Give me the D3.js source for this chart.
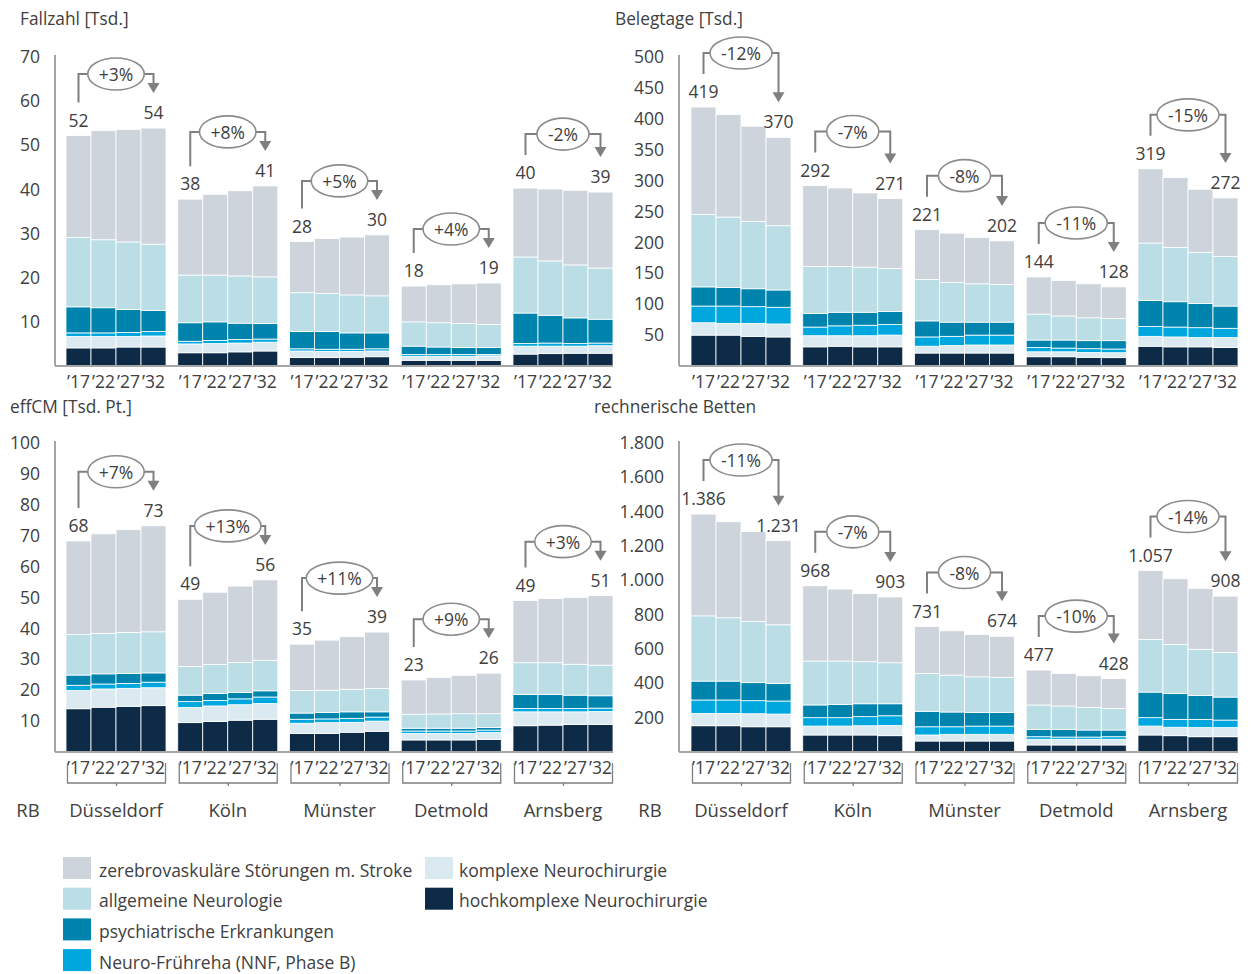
<!DOCTYPE html>
<html>
<head>
<meta charset="utf-8">
<script src="https://cdn.jsdelivr.net/npm/d3@7"></script>
<style>
  body { margin: 0; background: #fff; }
  svg text { font-family: "Open Sans", "Noto Sans", sans-serif; fill: #404040; }
</style>
</head>
<body>
<svg id="chart" width="1254" height="974"></svg>
<script>
// Regierungsbezirke and projection years
const regions = ["Düsseldorf", "Köln", "Münster", "Detmold", "Arnsberg"];
const years = ["’17", "’22", "’27", "’32"];

// Stack order, bottom to top
const categories = [
  "hochkomplexe Neurochirurgie",
  "komplexe Neurochirurgie",
  "Neuro-Frühreha (NNF, Phase B)",
  "psychiatrische Erkrankungen",
  "allgemeine Neurologie",
  "zerebrovaskuläre Störungen m. Stroke"
];
const categoryColors = ["#0d2a47", "#dbeaf0", "#00a7df", "#0083ad", "#badde6", "#cdd4db"];

// Legend layout order (two columns)
const legendColumns = [
  ["zerebrovaskuläre Störungen m. Stroke", "allgemeine Neurologie", "psychiatrische Erkrankungen", "Neuro-Frühreha (NNF, Phase B)"],
  ["komplexe Neurochirurgie", "hochkomplexe Neurochirurgie"]
];

// Each region: four years, each [hochkomplex, komplex, Frühreha, psychiatrisch, allg. Neurologie, zerebrovaskulär]
const fallzahl = [
  [[4.1, 2.6, 0.8, 5.9, 15.7, 23.1], [4.1, 2.6, 0.8, 5.7, 15.4, 24.7], [4.3, 2.4, 0.9, 5.2, 15.3, 25.5], [4.3, 2.5, 1.0, 4.8, 15.0, 26.3]],
  [[3.0, 2.0, 0.6, 4.2, 10.8, 17.2], [3.0, 2.1, 0.7, 4.2, 10.6, 18.3], [3.2, 2.0, 0.8, 3.7, 10.7, 19.3], [3.4, 2.0, 0.7, 3.5, 10.6, 20.6]],
  [[1.9, 1.5, 0.5, 3.9, 8.8, 11.6], [1.9, 1.4, 0.5, 4.0, 8.6, 12.5], [2.0, 1.3, 0.5, 3.7, 8.6, 13.1], [2.1, 1.3, 0.5, 3.6, 8.4, 13.8]],
  [[1.3, 0.9, 0.4, 1.9, 5.5, 8.1], [1.3, 0.9, 0.4, 1.7, 5.5, 8.6], [1.3, 0.9, 0.4, 1.6, 5.4, 9.0], [1.3, 1.0, 0.3, 1.6, 5.2, 9.4]],
  [[2.7, 1.8, 0.6, 6.9, 12.7, 15.6], [2.8, 1.7, 0.7, 6.3, 12.3, 16.3], [2.9, 1.6, 0.6, 5.8, 12.0, 16.9], [2.9, 1.7, 0.6, 5.4, 11.6, 17.2]]
];

const belegtage = [
  [[50, 20, 27, 31, 117, 174], [50, 19, 28, 30, 114, 166], [48, 21, 27, 29, 109, 154], [47, 21, 27, 28, 104, 143]],
  [[31, 18, 14, 22, 76, 131], [32, 17, 16, 22, 74, 127], [31, 18, 17, 21, 73, 120], [31, 19, 17, 21, 70, 113]],
  [[21, 11, 15, 26, 67, 80.6], [21, 12, 15, 23, 64, 80], [21, 13, 16, 21, 62, 75], [21, 13, 16, 21, 61, 70.4]],
  [[15, 8, 7, 12, 42, 60], [15, 8, 6, 13, 39, 57.5], [14, 8, 6, 13, 37, 55], [13.5, 8, 6, 13.5, 36, 51]],
  [[32, 16, 16, 42, 93, 120], [31, 16, 16, 41, 88, 113], [31, 15, 16, 39, 83, 102], [30, 16, 15, 36, 80, 95]]
];

const effCM = [
  [[14.0, 5.9, 1.7, 3.3, 13.1, 30.3], [14.5, 5.9, 1.6, 3.3, 13.1, 32.2], [14.8, 5.8, 1.6, 3.2, 13.3, 33.3], [15.0, 5.8, 1.8, 3.0, 13.3, 34.3]],
  [[9.5, 4.9, 1.9, 2.1, 9.3, 21.7], [9.9, 5.0, 1.8, 2.2, 9.4, 23.4], [10.3, 5.0, 1.9, 2.1, 9.7, 24.7], [10.6, 5.1, 2.1, 2.0, 9.9, 26.0]],
  [[6.0, 3.3, 1.3, 2.0, 7.3, 15.0], [6.0, 3.5, 1.2, 2.1, 7.2, 16.2], [6.4, 3.2, 1.3, 2.1, 7.3, 17.0], [6.7, 3.3, 1.3, 1.7, 7.6, 18.2]],
  [[3.9, 2.1, 0.8, 0.9, 4.5, 11.1], [3.9, 2.1, 0.8, 0.9, 4.6, 11.8], [3.9, 2.1, 0.8, 0.9, 4.7, 12.4], [4.1, 2.2, 0.8, 0.8, 4.5, 13.1]],
  [[8.5, 4.5, 1.1, 4.5, 10.3, 20.1], [8.7, 4.3, 1.1, 4.5, 10.3, 20.8], [8.9, 4.1, 1.1, 4.3, 10.0, 21.6], [8.9, 4.2, 1.1, 4.0, 9.9, 22.5]]
];

const betten = [
  [[153, 72, 78, 110, 380, 593], [153, 72, 78, 110, 369, 559], [147, 76, 76, 105, 356, 524], [147, 74, 76, 103, 341, 490]],
  [[99, 52, 49, 74, 256, 438], [99, 52, 49, 77, 253, 419], [99, 54, 53, 75, 245, 397], [95, 60, 56, 70, 239, 383]],
  [[64, 35, 48, 90, 221, 273], [64, 39, 44, 86, 215, 258], [64, 39, 48, 80, 207, 247], [64, 39, 48, 80, 204, 239]],
  [[41, 33, 15, 43, 142, 203], [41, 33, 13, 45, 136, 190], [41, 33, 13, 41, 132, 184], [41, 33, 15, 39, 126, 174]],
  [[99, 52, 49, 149, 307, 401], [95, 49, 46, 150, 287, 382], [89, 53, 48, 140, 268, 355], [89, 53, 44, 134, 260, 328]]
];

// Axis ticks
const fallzahlTicks = [10, 20, 30, 40, 50, 60, 70];
const belegtageTicks = [50, 100, 150, 200, 250, 300, 350, 400, 450, 500];
const effCMTicks = [10, 20, 30, 40, 50, 60, 70, 80, 90, 100];
const bettenTicks = [200, 400, 600, 800, 1000, 1200, 1400, 1600, 1800];

const de = d3.formatLocale({ decimal: ",", thousands: ".", grouping: [3], currency: ["", " €"] });
const fmt = de.format(",.0f");

const svg = d3.select("#chart");
const GRAY = "#7f7f7f";

const panels = [
  { title: "Fallzahl [Tsd.]", data: fallzahl, ticks: fallzahlTicks, max: 70,
    axisX: 55, bars: [66, 613], y: [366, 57], titleX: 20, titleY: 18, lower: false },
  { title: "Belegtage [Tsd.]", data: belegtage, ticks: belegtageTicks, max: 500,
    axisX: 679, bars: [691, 1238], y: [366, 57], titleX: 615, titleY: 18, lower: false },
  { title: "effCM [Tsd. Pt.]", data: effCM, ticks: effCMTicks, max: 100,
    axisX: 55, bars: [66, 613], y: [752, 443], titleX: 10, titleY: 406, lower: true, rbX: 28 },
  { title: "rechnerische Betten", data: betten, ticks: bettenTicks, max: 1800,
    axisX: 679, bars: [691, 1238], y: [752, 443], titleX: 594, titleY: 406, lower: true, rbX: 650 }
];

panels.forEach(p => {
  const g = svg.append("g");
  const y = d3.scaleLinear().domain([0, p.max]).range(p.y);
  const xg = d3.scaleBand().domain(regions).range(p.bars).paddingInner(0.105).paddingOuter(0);
  const xy = d3.scaleBand().domain(years).range([0, xg.bandwidth()]).padding(0);

  // title
  g.append("text").attr("x", p.titleX).attr("y", p.titleY)
    .attr("dominant-baseline", "central").style("font-size", "17.3px").text(p.title);

  // y tick labels
  const axis = d3.axisLeft(y).tickValues(p.ticks).tickSize(0).tickPadding(15).tickFormat(fmt);
  const ag = g.append("g").attr("transform", `translate(${p.axisX},0)`).call(axis);
  ag.select(".domain").remove();
  ag.selectAll("text").style("font-size", "17.5px").attr("fill", "#404040").style("font-family", null);

  // stacked bars
  const rows = [];
  regions.forEach((r, i) => years.forEach((yr, j) => rows.push({ region: r, year: yr, values: p.data[i][j] })));
  const stacked = d3.stack().keys(d3.range(categories.length)).value((d, k) => d.values[k])(rows);

  g.append("g").selectAll("g").data(stacked).join("g")
    .attr("fill", (s, k) => categoryColors[k])
    .selectAll("rect").data(s => s).join("rect")
    .attr("x", d => xg(d.data.region) + xy(d.data.year))
    .attr("width", xy.bandwidth())
    .attr("y", d => y(d[1]))
    .attr("height", d => y(d[0]) - y(d[1]))
    .attr("stroke", "#ffffff").attr("stroke-width", 0.8);

  // axis lines
  g.append("line").attr("x1", p.axisX).attr("x2", p.axisX).attr("y1", p.y[1] - 2).attr("y2", p.y[0])
    .attr("stroke", "#a6a6a6").attr("stroke-width", 2);
  g.append("line").attr("x1", p.axisX).attr("x2", p.bars[1]).attr("y1", p.y[0]).attr("y2", p.y[0])
    .attr("stroke", "#a6a6a6").attr("stroke-width", 2);

  // year labels
  regions.forEach(r => {
    years.forEach(yr => {
      g.append("text").attr("x", xg(r) + xy(yr) + xy.bandwidth() / 2).attr("y", p.y[0] + 15)
        .attr("text-anchor", "middle").attr("dominant-baseline", "central")
        .style("font-size", "17.5px").text(yr);
    });
  });

  // totals and change annotation
  regions.forEach((r, i) => {
    const totals = p.data[i].map(v => d3.sum(v));
    const first = totals[0], last = totals[totals.length - 1];
    const x1 = xg(r) + xy(years[0]) + xy.bandwidth() / 2;
    const x2 = xg(r) + xy(years[years.length - 1]) + xy.bandwidth() / 2;
    [[x1, first], [x2, last]].forEach(([x, v]) => {
      g.append("text").attr("x", x).attr("y", y(v) - 9).attr("text-anchor", "middle")
        .style("font-size", "17.5px").text(fmt(v));
    });
    const change = Math.round((last / first - 1) * 100);
    const pctText = (change > 0 ? "+" : "") + change + "%";
    const yLine = y(Math.max(first, last)) - 54;
    const tipY = y(last) - 35;
    g.append("path")
      .attr("d", `M${x1},${y(first) - 33}V${yLine}H${x2}V${tipY - 9}`)
      .attr("fill", "none").attr("stroke", GRAY).attr("stroke-width", 2);
    g.append("path")
      .attr("d", `M${x2 - 6},${tipY - 10}L${x2 + 6},${tipY - 10}L${x2},${tipY}Z`)
      .attr("fill", GRAY);
    const cx = (x1 + x2) / 2;
    const ell = g.append("ellipse").attr("cx", cx).attr("cy", yLine).attr("ry", 16)
      .attr("fill", "#fff").attr("stroke", "#8c8c8c").attr("stroke-width", 1.6);
    const t = g.append("text").attr("x", cx).attr("y", yLine).attr("text-anchor", "middle")
      .attr("dominant-baseline", "central").style("font-size", "17.5px").text(pctText);
    ell.attr("rx", t.node().getComputedTextLength() / 2 + 11);
  });

  if (p.lower) {
    // year bracket and region names
    regions.forEach(r => {
      const a = xg(r) + 1.5, b = xg(r) + xg.bandwidth() - 0.5, top = p.y[0] + 11, bot = p.y[0] + 31;
      g.append("path").attr("d", `M${a},${top}V${bot}H${b}V${top}M${(a + b) / 2},${bot}v3`)
        .attr("fill", "none").attr("stroke", GRAY).attr("stroke-width", 1.3);
      g.append("text").attr("x", xg(r) + xg.bandwidth() / 2).attr("y", 809)
        .attr("text-anchor", "middle").attr("dominant-baseline", "central")
        .style("font-size", "18.5px").text(r);
    });
    g.append("text").attr("x", p.rbX).attr("y", 809).attr("text-anchor", "middle")
      .attr("dominant-baseline", "central").style("font-size", "18.5px").text("RB");
  }
});

// legend
const legendX = [[63, 99], [425, 459]];
legendColumns.forEach((col, c) => {
  col.forEach((name, r) => {
    const cy = 868 + r * 30.7;
    const k = categories.indexOf(name);
    svg.append("rect").attr("x", legendX[c][0]).attr("y", cy - 11).attr("width", 28).attr("height", 22)
      .attr("fill", categoryColors[k]);
    svg.append("text").attr("x", legendX[c][1]).attr("y", cy + 1.5).attr("dominant-baseline", "central")
      .style("font-size", "17.5px").text(name);
  });
});
</script>
</body>
</html>
